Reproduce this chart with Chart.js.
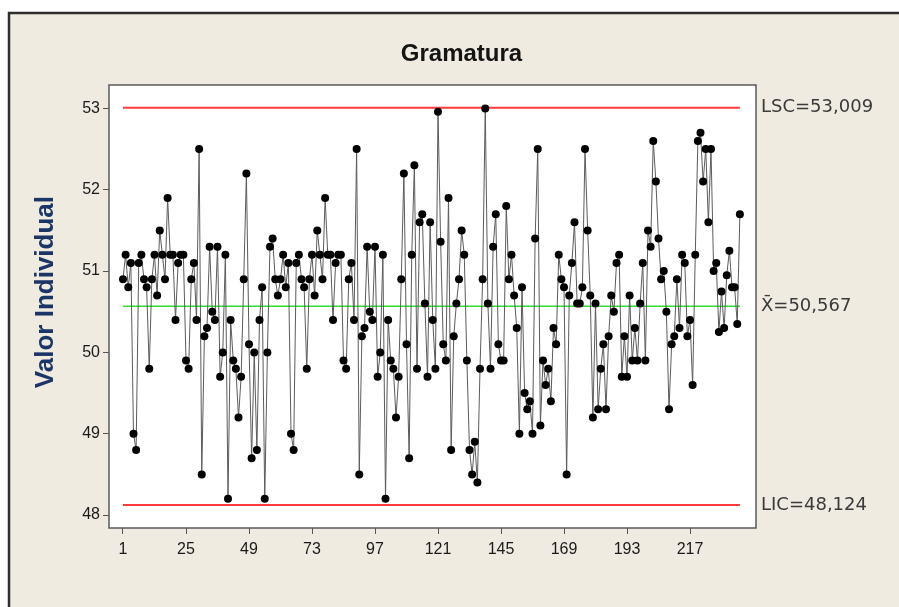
<!DOCTYPE html>
<html>
<head>
<meta charset="utf-8">
<title>Gramatura</title>
<script src="https://cdn.jsdelivr.net/npm/chart.js@4.4.1/dist/chart.umd.min.js"></script>
<style>
  html, body { margin: 0; padding: 0; background: #ffffff; }
  canvas { display: block; }
</style>
</head>
<body>
<canvas id="grafico" width="899" height="607"></canvas>
<script>
// Individual measurements of grammage, in order of collection
const lote1 = [50.9, 51.2, 50.8, 51.1, 49.0, 48.8, 51.1, 51.2, 50.9, 50.8,
               49.8, 50.9, 51.2, 50.7, 51.5, 51.2, 50.9, 51.9, 51.2, 51.2,
               50.4, 51.1, 51.2, 51.2, 49.9, 49.8, 50.9, 51.1, 50.4, 52.5,
               48.5, 50.2, 50.3, 51.3, 50.5, 50.4, 51.3, 49.7, 50.0, 51.2,
               48.2, 50.4, 49.9, 49.8, 49.2, 49.7, 50.9, 52.2, 50.1, 48.7,
               50.0, 48.8, 50.4, 50.8, 48.2, 50.0, 51.3, 51.4, 50.9, 50.7];
const lote2 = [50.9, 51.2, 50.8, 51.1, 49.0, 48.8, 51.1, 51.2, 50.9, 50.8,
               49.8, 50.9, 51.2, 50.7, 51.5, 51.2, 50.9, 51.9, 51.2, 51.2,
               50.4, 51.1, 51.2, 51.2, 49.9, 49.8, 50.9, 51.1, 50.4, 52.5,
               48.5, 50.2, 50.3, 51.3, 50.5, 50.4, 51.3, 49.7, 50.0, 51.2,
               48.2, 50.4, 49.9, 49.8, 49.2, 49.7, 50.9, 52.2, 50.1, 48.7];
const lote3 = [51.2, 52.3, 49.8, 51.6, 51.7, 50.6, 49.7, 51.6, 50.4, 49.8,
               52.96, 51.36, 50.1, 49.9, 51.9, 48.8, 50.2, 50.6, 50.9, 51.5,
               51.2];
const lote4 = [49.9, 48.8, 48.5, 48.9, 48.4, 49.8, 50.9, 53.0, 50.6, 49.8,
               51.3, 51.7, 50.1, 49.9, 49.9, 51.8, 50.9, 51.2, 50.7, 50.3,
               49.0, 50.8, 49.5, 49.3, 49.4, 49.0, 51.4, 52.5, 49.1];
const lote5 = [49.9, 49.6, 49.8, 49.4, 50.3, 50.1, 51.2, 50.9, 50.8, 48.5,
               50.7, 51.1, 51.6, 50.6, 50.6, 50.8, 52.5, 51.5, 50.7, 49.2,
               50.6, 49.3, 49.8, 50.1, 49.3, 50.2, 50.7, 50.5];
const lote6 = [51.1, 51.2, 49.7, 50.2, 49.7, 50.7, 49.9, 50.3, 49.9, 50.6,
               51.1, 49.9, 51.5, 51.3, 52.6, 52.1, 51.4, 50.9, 51.0, 50.5,
               49.3, 50.1, 50.2, 50.9, 50.3, 51.2, 51.1, 50.2, 50.4];
const lote7 = [49.6, 51.2, 52.6, 52.7, 52.1, 52.5, 51.6, 52.5, 51.0, 51.1,
               50.25, 50.75, 50.3, 50.95, 51.25, 50.8, 50.8, 50.35, 51.7];

const gramatura = [...lote1, ...lote2, ...lote3, ...lote4, ...lote5, ...lote6, ...lote7];

// Control limits of the individuals chart
const LSC = 53.009;
const MEDIA = 50.567;
const LIC = 48.124;

// Axis tick values
const ticksX = [1, 25, 49, 73, 97, 121, 145, 169, 193, 217];
const ticksY = [48, 49, 50, 51, 52, 53];

const n = gramatura.length;
const pontos = gramatura.map((v, k) => ({ x: k + 1, y: v }));
const linhaHorizontal = (valor) => [{ x: 1, y: valor }, { x: n, y: valor }];
const formatar = (v) => v.toFixed(3).replace('.', ',');
const rotuloLimite = (v) => {
  if (v === LSC) return 'LSC=' + formatar(LSC);
  if (v === MEDIA) return 'X\u0304=' + formatar(MEDIA);
  if (v === LIC) return 'LIC=' + formatar(LIC);
  return '';
};

const SANS = "'Liberation Sans', Arial, sans-serif";

// Page backdrop: beige panel with dark frame, white plotting area and its box
const moldura = {
  id: 'moldura',
  beforeDraw(chart) {
    const { ctx, chartArea: a, width, height } = chart;
    ctx.save();
    ctx.fillStyle = '#ffffff';
    ctx.fillRect(0, 0, width, height);
    ctx.fillStyle = '#efebe1';
    ctx.fillRect(9, 13, width - 9, height - 13);
    ctx.strokeStyle = '#2e2e2e';
    ctx.lineWidth = 2.5;
    ctx.beginPath();
    ctx.moveTo(9, height);
    ctx.lineTo(9, 13);
    ctx.lineTo(width, 13);
    ctx.stroke();
    ctx.fillStyle = '#ffffff';
    ctx.fillRect(a.left, a.top, a.right - a.left, a.bottom - a.top);
    ctx.restore();
  },
  afterDraw(chart) {
    const { ctx, chartArea: a } = chart;
    ctx.save();
    ctx.strokeStyle = '#5a5a5a';
    ctx.lineWidth = 1.5;
    ctx.strokeRect(a.left, a.top, a.right - a.left, a.bottom - a.top);
    ctx.restore();
  }
};

new Chart(document.getElementById('grafico'), {
  type: 'line',
  data: {
    datasets: [
      {
        label: 'Gramatura',
        data: pontos,
        order: 0,
        borderColor: '#5c5c5c',
        borderWidth: 1,
        pointRadius: 4,
        pointBackgroundColor: '#000000',
        pointBorderColor: '#000000',
        pointBorderWidth: 0,
        tension: 0
      },
      {
        label: 'LSC',
        data: linhaHorizontal(LSC),
        order: 1,
        borderColor: '#ff3b3b',
        borderWidth: 2,
        pointRadius: 0
      },
      {
        label: 'Média',
        data: linhaHorizontal(MEDIA),
        order: 1,
        borderColor: '#2fdc2f',
        borderWidth: 1.5,
        pointRadius: 0
      },
      {
        label: 'LIC',
        data: linhaHorizontal(LIC),
        order: 1,
        borderColor: '#ff3b3b',
        borderWidth: 2,
        pointRadius: 0
      }
    ]
  },
  options: {
    responsive: false,
    animation: false,
    devicePixelRatio: 1,
    layout: { padding: { left: 24, right: 0, top: 0, bottom: 0 } },
    plugins: {
      legend: { display: false },
      tooltip: { enabled: false },
      title: {
        display: true,
        text: 'Gramatura',
        color: '#141414',
        font: { family: SANS, size: 24, weight: 'bold' },
        padding: { top: 40, bottom: 16.2 }
      }
    },
    scales: {
      x: {
        type: 'linear',
        min: -4.333,
        max: 242.14,
        afterBuildTicks: (s) => { s.ticks = ticksX.map((v) => ({ value: v })); },
        afterFit: (s) => { s.height = 79; },
        grid: { drawOnChartArea: false, drawTicks: true, tickLength: 6, color: '#555555' },
        border: { display: false },
        ticks: {
          autoSkip: false,
          maxRotation: 0,
          padding: 6,
          color: '#1a1a1a',
          font: { family: SANS, size: 16 }
        }
      },
      y: {
        type: 'linear',
        position: 'left',
        min: 47.841,
        max: 53.288,
        afterBuildTicks: (s) => { s.ticks = ticksY.map((v) => ({ value: v })); },
        afterFit: (s) => { s.width = 85; },
        grid: { drawOnChartArea: false, drawTicks: true, tickLength: 6, color: '#555555' },
        border: { display: false },
        ticks: {
          padding: 3,
          color: '#1a1a1a',
          font: { family: SANS, size: 16 }
        },
        title: {
          display: true,
          // leading no-break spaces lift the rotated caption slightly above the axis centre
          text: '\u00a0\u00a0\u00a0\u00a0Valor Individual',
          color: '#1b3566',
          font: { family: SANS, size: 26, weight: 'bold' },
          padding: { top: 6.4, bottom: 0 }
        }
      },
      y2: {
        type: 'linear',
        position: 'right',
        min: 47.841,
        max: 53.288,
        afterBuildTicks: (s) => { s.ticks = [LIC, MEDIA, LSC].map((v) => ({ value: v })); },
        afterFit: (s) => { s.width = 143; },
        grid: { display: false, drawTicks: false },
        border: { display: false },
        ticks: {
          padding: 5,
          autoSkip: false,
          color: '#3a3a3a',
          font: { family: "'DejaVu Sans', sans-serif", size: 18 },
          callback: (v) => rotuloLimite(v)
        }
      }
    }
  },
  plugins: [moldura]
});
</script>
</body>
</html>
